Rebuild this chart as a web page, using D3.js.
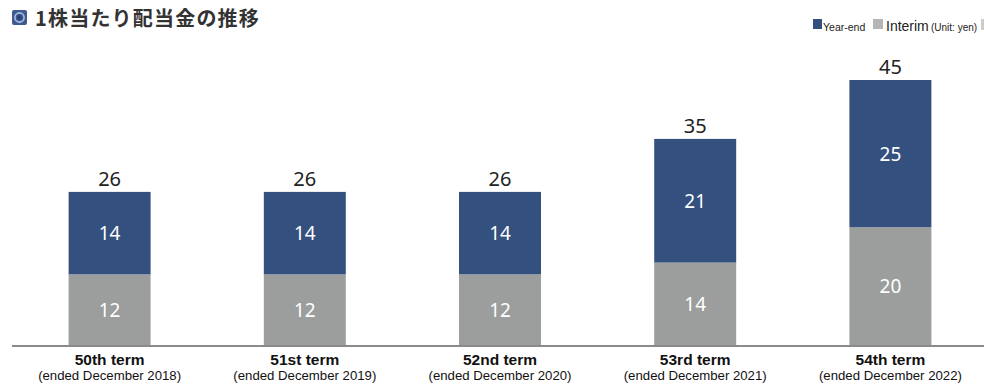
<!DOCTYPE html>
<html>
<head>
<meta charset="utf-8">
<script src="https://cdn.jsdelivr.net/npm/d3@7"></script>
<style>
  body { margin: 0; background: #fff; }
  svg { display: block; }
</style>
</head>
<body>
<svg id="chart" width="984" height="385"></svg>
<script>
// data (yen per share)
const terms = ["50th term", "51st term", "52nd term", "53rd term", "54th term"];
const periods = ["(ended December 2018)", "(ended December 2019)", "(ended December 2020)", "(ended December 2021)", "(ended December 2022)"];
const interim = [12, 12, 12, 14, 20];
const yearEnd = [14, 14, 14, 21, 25];

const blue = "#34507f";
const grey = "#9c9e9d";

const svg = d3.select("#chart");

const rows = terms.map((t, i) => ({ term: t, period: periods[i], interim: interim[i], yearEnd: yearEnd[i] }));
const stack = d3.stack().keys(["interim", "yearEnd"])(rows);

const x = d3.scaleBand()
  .domain(terms)
  .range([12, 988])
  .paddingInner(0.58)
  .paddingOuter(0.29);

const y = d3.scaleLinear()
  .domain([0, 45])
  .range([345, 80]);

// title
const icon = svg.append("g").attr("transform", "translate(12,10)");
icon.append("rect").attr("width", 15).attr("height", 15).attr("rx", 2).attr("fill", "#3f5a92");
icon.append("circle").attr("cx", 7.5).attr("cy", 7.5).attr("r", 4.6).attr("fill", "none").attr("stroke", "#a9bde0").attr("stroke-width", 1.6);
icon.append("circle").attr("cx", 7.5).attr("cy", 7.5).attr("r", 2.4).attr("fill", "#2c4374");

svg.append("text")
  .attr("x", 35).attr("y", 26)
  .attr("font-family", "'Noto Sans CJK JP', 'Noto Sans', sans-serif")
  .attr("font-weight", "bold")
  .attr("font-size", 20)
  .attr("letter-spacing", 1.2)
  .attr("fill", "#333")
  .text("1株当たり配当金の推移");

// legend
const lg = svg.append("g").attr("font-family", "'Liberation Sans', Arial, sans-serif").attr("fill", "#222");
lg.append("rect").attr("x", 813).attr("y", 19).attr("width", 9).attr("height", 10).attr("fill", blue);
lg.append("text").attr("x", 823).attr("y", 31).attr("font-size", 10.5).text("Year-end");
lg.append("rect").attr("x", 873).attr("y", 19).attr("width", 10).attr("height", 10).attr("fill", "#b4b5b5");
lg.append("text").attr("x", 886).attr("y", 31).attr("font-size", 14).text("Interim");
lg.append("text").attr("x", 931).attr("y", 31).attr("font-size", 10).text("(Unit: yen)");
lg.append("rect").attr("x", 981).attr("y", 19).attr("width", 3).attr("height", 11).attr("fill", "#ccc");

// bars
const colors = { interim: grey, yearEnd: blue };
const layers = svg.append("g").selectAll("g")
  .data(stack)
  .join("g")
  .attr("fill", d => colors[d.key]);

layers.selectAll("rect")
  .data(d => d)
  .join("rect")
  .attr("x", d => x(d.data.term))
  .attr("y", d => y(d[1]))
  .attr("width", x.bandwidth())
  .attr("height", d => y(d[0]) - y(d[1]));

// segment labels
layers.selectAll("text")
  .data(d => d)
  .join("text")
  .attr("x", d => x(d.data.term) + x.bandwidth() / 2)
  .attr("y", d => (y(d[0]) + y(d[1])) / 2 + 7)
  .attr("text-anchor", "middle")
  .attr("font-family", "'Noto Sans', sans-serif")
  .attr("font-size", 19)
  .attr("fill", "#fff")
  .text(d => d[1] - d[0]);

// totals
svg.append("g").selectAll("text")
  .data(rows)
  .join("text")
  .attr("x", d => x(d.term) + x.bandwidth() / 2)
  .attr("y", d => y(d.interim + d.yearEnd) - 6)
  .attr("text-anchor", "middle")
  .attr("font-family", "'Noto Sans', sans-serif")
  .attr("font-size", 20)
  .attr("fill", "#222")
  .text(d => d.interim + d.yearEnd);

// baseline
svg.append("line")
  .attr("x1", 12).attr("x2", 984)
  .attr("y1", y(0) + 1).attr("y2", y(0) + 1)
  .attr("stroke", "#8a8a8a").attr("stroke-width", 2);

// category labels
const cats = svg.append("g").selectAll("g")
  .data(rows)
  .join("g")
  .attr("transform", d => `translate(${x(d.term) + x.bandwidth() / 2},0)`)
  .attr("font-family", "'Liberation Sans', Arial, sans-serif")
  .attr("text-anchor", "middle")
  .attr("fill", "#111");

cats.append("text")
  .attr("y", 365)
  .attr("font-size", 15.5)
  .attr("font-weight", "bold")
  .text(d => d.term);

cats.append("text")
  .attr("y", 380)
  .attr("font-size", 13.2)
  .text(d => d.period);
</script>
</body>
</html>
